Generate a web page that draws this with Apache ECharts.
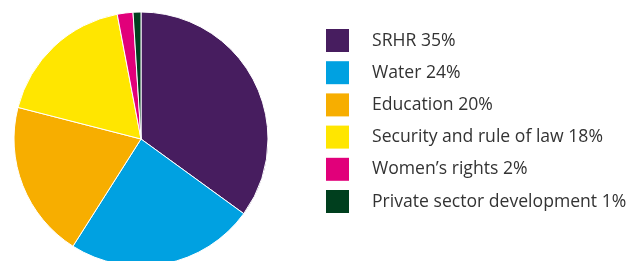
<!DOCTYPE html>
<html>
<head>
<meta charset="utf-8">
<script src="https://cdn.jsdelivr.net/npm/echarts@6/dist/echarts.min.js"></script>
<style>
  html, body { margin: 0; padding: 0; background: #fff; }
  #chart { width: 641px; height: 261px; }
</style>
</head>
<body>
<div id="chart"></div>
<script>
const categories = ['SRHR', 'Water', 'Education', 'Security and rule of law', 'Women\u2019s rights', 'Private sector development']
const shares = [35, 24, 20, 18, 2, 1]
const colorList = ['#471d5f', '#00a1e1', '#f7ae00', '#ffe600', '#e1007a', '#003f1e']

const chart = echarts.init(document.getElementById('chart'))
const pieData = categories.map((name, i) => {
  return { name: name, value: shares[i] }
})

chart.setOption({
  animation: false,
  color: colorList,
  legend: {
    orient: 'vertical',
    left: 326,
    top: 29,
    padding: 0,
    itemWidth: 23,
    itemHeight: 23,
    itemGap: 9.2,
    icon: 'rect',
    selectedMode: false,
    itemStyle: { borderWidth: 0 },
    formatter(name) {
      const idx = categories.indexOf(name)
      return name + ' ' + shares[idx] + '%'
    },
    textStyle: {
      color: '#333',
      fontSize: 17.6,
      fontFamily: 'Open Sans',
      padding: [0, 0, 0, 18]
    },
    data: categories
  },
  series: [{
    type: 'pie',
    center: [141, 139],
    radius: 127,
    startAngle: 90,
    clockwise: true,
    label: { show: false },
    labelLine: { show: false },
    itemStyle: {
      borderColor: '#fff',
      borderWidth: 1
    },
    emphasis: { disabled: true },
    data: pieData
  }]
})
</script>
</body>
</html>
